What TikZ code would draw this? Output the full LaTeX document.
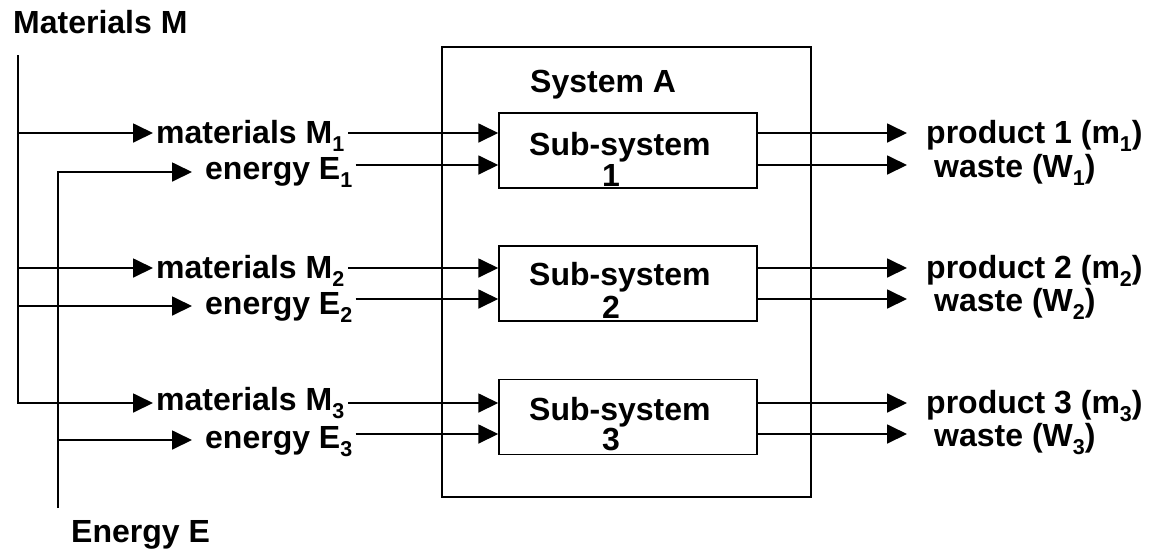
\documentclass[tikz,border=0pt]{standalone}
\usepackage{fontspec}
\setmainfont{Liberation Sans}
\usetikzlibrary{arrows.meta}
\newcommand\lsub[1]{\raisebox{-8pt}[0pt][0pt]{\fontsize{21.5}{21.5}\selectfont #1}}
\begin{document}
\begin{tikzpicture}[x=1pt,y=-1pt,
  lab/.style={font=\fontsize{32}{32}\selectfont\bfseries, inner sep=0pt, anchor=base west},
  boxline/.style={draw, line width=1.5pt},
  subbox/.style={boxline, minimum width=258pt, minimum height=75pt, inner sep=0pt},
  arr/.style={line width=1.8pt, line join=miter, -{Triangle[length=20pt,width=19pt]}}]
\useasboundingbox (0,0) rectangle (1150,550);
\fill[white] (0,0) rectangle (1150,550);

% titles
\node[lab] (tM) at (13,33) {Materials M};
\node[lab] (tE) at (71,542) {Energy E};

% system box
\node[boxline, minimum width=369pt, minimum height=450pt, inner sep=0pt] (sys) at (626.5,272) {};
\node[lab] (sysl) at (530,92) {System A};

% sub-system boxes
\node[subbox] (sub1) at (628,150.5) {};
\node[subbox] (sub2) at (628,283.5) {};
\node[subbox] (sub3) at (628,417) {};
\node[lab] (s1a) at (529,155) {Sub-system};
\node[lab] (s1b) at (602,186) {1};
\node[lab] (s2a) at (529,285) {Sub-system};
\node[lab] (s2b) at (602,318) {2};
\node[lab] (s3a) at (529,420) {Sub-system};
\node[lab] (s3b) at (602,450) {3};

% row coordinates
\coordinate (r1m) at (0,133);
\coordinate (r1e) at (0,165);
\coordinate (r2m) at (0,268);
\coordinate (r2e) at (0,299);
\coordinate (r3m) at (0,403);
\coordinate (r3e) at (0,434);

% bus coordinates
\coordinate (mtop) at (18,55);
\coordinate (mtap1) at (18,133);
\coordinate (mtap2) at (18,268);
\coordinate (mtap3) at (18,403);
\coordinate (ebot) at (58,508);
\coordinate (etap1) at (58,172);
\coordinate (etap2) at (18,306);
\coordinate (etap3) at (58,440);

% input labels
\node[lab] (mat1) at (156,143) {materials M\lsub{1}};
\node[lab] (en1) at (205,179) {energy E\lsub{1}};
\node[lab] (mat2) at (156,278) {materials M\lsub{2}};
\node[lab] (en2) at (205,314) {energy E\lsub{2}};
\node[lab] (mat3) at (156,410) {materials M\lsub{3}};
\node[lab] (en3) at (205,448) {energy E\lsub{3}};

% output labels
\node[lab] (prod1) at (926,143) {product 1 (m\lsub{1})};
\node[lab] (was1) at (934,177) {waste (W\lsub{1})};
\node[lab] (prod2) at (926,278) {product 2 (m\lsub{2})};
\node[lab] (was2) at (934,311) {waste (W\lsub{2})};
\node[lab] (prod3) at (926,413) {product 3 (m\lsub{3})};
\node[lab] (was3) at (934,446) {waste (W\lsub{3})};

% materials bus
\draw[arr, shorten >=3pt] (mtop) -- (mtap3) -- (mat3.west |- mtap3);
\draw[arr, shorten >=3pt] (mtap1) -- (mat1.west |- mtap1);
\draw[arr, shorten >=3pt] (mtap2) -- (mat2.west |- mtap2);

% energy bus
\draw[arr, shorten >=13pt] (ebot) -- (etap1) -- (en1.west |- etap1);
\draw[arr, shorten >=13pt] (etap2) -- (en2.west |- etap2);
\draw[arr, shorten >=13pt] (etap3) -- (en3.west |- etap3);

% into sub-systems
\draw[arr, shorten <=4pt] (mat1.east |- r1m) -- (sub1.west |- r1m);
\draw[arr, shorten <=3pt] (en1.east |- r1e) -- (sub1.west |- r1e);
\draw[arr, shorten <=4pt] (mat2.east |- r2m) -- (sub2.west |- r2m);
\draw[arr, shorten <=3pt] (en2.east |- r2e) -- (sub2.west |- r2e);
\draw[arr, shorten <=4pt] (mat3.east |- r3m) -- (sub3.west |- r3m);
\draw[arr, shorten <=3pt] (en3.east |- r3e) -- (sub3.west |- r3e);

% outputs
\draw[arr, shorten >=19pt] (sub1.east |- r1m) -- (prod1.west |- r1m);
\draw[arr, shorten >=27pt] (sub1.east |- r1e) -- (was1.west |- r1e);
\draw[arr, shorten >=19pt] (sub2.east |- r2m) -- (prod2.west |- r2m);
\draw[arr, shorten >=27pt] (sub2.east |- r2e) -- (was2.west |- r2e);
\draw[arr, shorten >=19pt] (sub3.east |- r3m) -- (prod3.west |- r3m);
\draw[arr, shorten >=27pt] (sub3.east |- r3e) -- (was3.west |- r3e);
\end{tikzpicture}
\end{document}
